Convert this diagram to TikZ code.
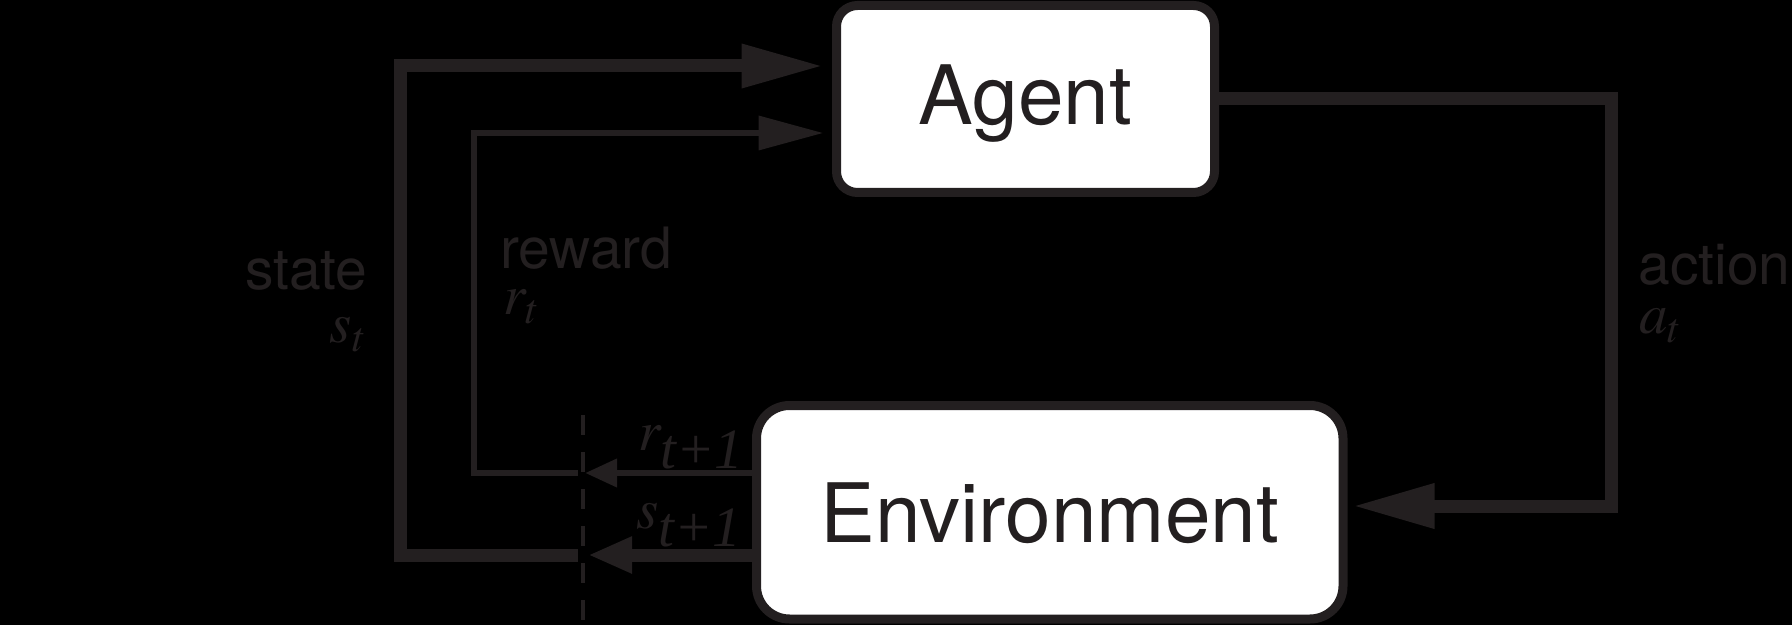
\documentclass[tikz,border=0pt]{standalone}
\usepackage{mathptmx}
\usepackage[no-math]{fontspec}
\setmainfont{Liberation Serif}
\setsansfont{TeX Gyre Heros}
\usetikzlibrary{arrows.meta}
\definecolor{ink}{HTML}{231F20}

\begin{document}
\begin{tikzpicture}[x=0.5pt,y=-0.5pt,line join=miter,
		box/.style={draw=ink,fill=white,line width=4.5pt,font=\fontsize{41}{48}\selectfont\sffamily,text=ink,text depth=0pt},
		lbl/.style={font=\fontsize{28.5}{32}\selectfont\sffamily,text=ink,inner sep=0pt},
		thickline/.style={draw=ink,line width=6.5pt},
		thinline/.style={draw=ink,line width=3.4pt}]
	
	\fill[black] (0,0) rectangle (1792,625);
	\useasboundingbox (0,0) rectangle (1792,625);
	
	\node[box,rounded corners=10.5pt,minimum width=189pt,minimum height=93.5pt,text height=26pt](agent) at (1025.5,99){Agent};
	\node[box,rounded corners=16.5pt,minimum width=293.25pt,minimum height=106.75pt,text height=30pt](env) at (1049.75,512.25){Environment};
	
	\node[lbl,anchor=base east](state) at (368,290){state};
	\node[lbl,anchor=base east](st) at (367,343){$s_t$};
	\node[lbl,anchor=base west](reward) at (500,269){reward};
	\node[lbl,anchor=base west](rt) at (503,315){$r_t$};
	\node[lbl,anchor=base west](action) at (1638,285){action};
	\node[lbl,anchor=base west](act) at (1639,334){$a_t$};
	\node[lbl,anchor=base west](rnext) at (638,450){$r_{\textrm{\itshape t+1}}$};
	\node[lbl,anchor=base west](snext) at (636,528){$s_{\textrm{\itshape t+1}}$};
	
	% ends at the time step boundary
	\coordinate (rgap) at (578,473);
	\coordinate (sgap) at (578,555);
	\coordinate (rtip) at (585,473);
	\coordinate (stip) at (588,555);
	\coordinate (dtop) at (583,415);
	\coordinate (dbot) at (583,625);
	
	\draw[thickline,-{Triangle[length=41pt,width=20.5pt]},shorten >=4.25pt] (sgap) -- ++(-178,0) |- (agent.west |- 0,66);
	\draw[thinline,-{Triangle[length=32.5pt,width=16.5pt]},shorten >=4.25pt] (rgap) -- ++(-104,0) |- (agent.west |- 0,133);
	\draw[thickline,-{Triangle[length=41pt,width=21pt]},shorten >=2.5pt] (agent.east |- 0,98.5) -| (1611.5,506) -- (env.east |- 0,506);
	\draw[thinline,-{Triangle[length=16pt,width=13.5pt]}] (env.west |- 0,473) -- (rtip);
	\draw[thickline,-{Triangle[length=22pt,width=17pt]}] (env.west |- 0,555) -- (stip);
	\draw[ink,line width=2.25pt,dash pattern=on 10pt off 8.5pt] (dtop) -- (dbot);
	
\end{tikzpicture}
\end{document}
